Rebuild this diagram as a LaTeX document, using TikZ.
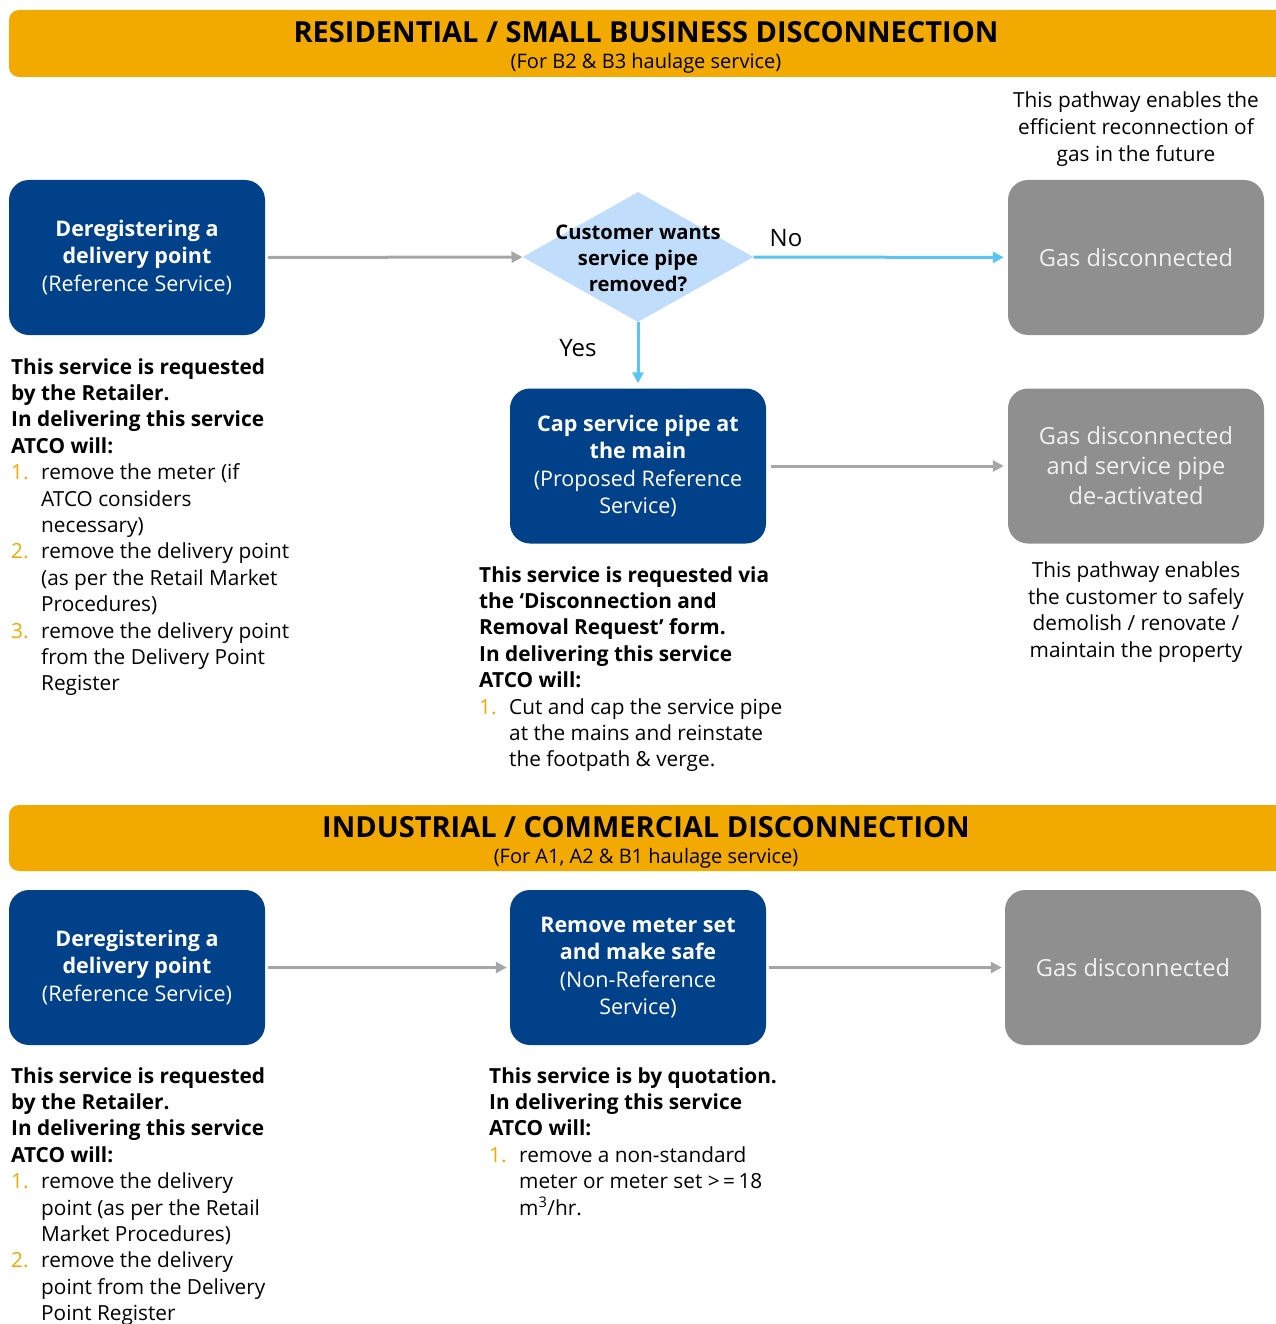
\documentclass[tikz,border=0pt]{standalone}
\usepackage{fontspec}
\setmainfont{Open Sans}
\usetikzlibrary{shapes.geometric,arrows.meta,positioning}

\definecolor{atcoorange}{HTML}{F2A900}
\definecolor{atcoblue}{HTML}{00418A}
\definecolor{boxgray}{HTML}{8F8F8F}
\definecolor{boxtext}{HTML}{F0F0F0}
\definecolor{decisionblue}{HTML}{C0DEFC}
\definecolor{flowblue}{HTML}{5BC5F2}
\definecolor{flowgray}{HTML}{A6A6A6}

\newcommand{\nitem}[1]{\makebox[30pt][l]{\color{atcoorange}#1}}
\newcommand{\ncont}{\hspace*{30pt}}

\tikzset{
  bluebox/.style={rectangle, rounded corners=20pt, fill=atcoblue, text=white,
    minimum width=256pt, minimum height=155pt, align=center, inner sep=0pt,
    font=\fontsize{21.5}{27.5}\selectfont},
  graybox/.style={rectangle, rounded corners=20pt, fill=boxgray, text=boxtext,
    minimum width=256pt, minimum height=155pt, align=center, inner sep=0pt,
    font=\fontsize{23.6}{30}\selectfont},
  decision/.style={diamond, fill=decisionblue, minimum width=231pt, minimum height=130pt,
    inner sep=0pt},
  decisiontext/.style={align=center, inner sep=0pt, font=\bfseries\fontsize{20.2}{26}\selectfont},
  bodytext/.style={anchor=north west, align=left, inner sep=0pt,
    font=\fontsize{20.8}{26.4}\selectfont},
  notetext/.style={align=center, inner sep=0pt, font=\fontsize{20.8}{26.6}\selectfont},
  bannertitle/.style={inner sep=0pt, font=\bfseries\fontsize{29}{32}\selectfont},
  bannersub/.style={inner sep=0pt, font=\fontsize{20}{22}\selectfont},
  greyflow/.style={draw=flowgray, line width=3pt, -{Triangle[length=11pt,width=11pt]}},
  blueflow/.style={draw=flowblue, line width=3pt, -{Triangle[length=11pt,width=11pt]}},
  flowlabel/.style={inner sep=0pt, font=\fontsize{24}{28}\selectfont}
}

\begin{document}
\begin{tikzpicture}[x=1pt, y=-1pt]
  \useasboundingbox (0,0) rectangle (1275,1324);

  % Residential banner
  \fill[atcoorange, rounded corners=10pt] (9,10) rectangle (1300,77);
  \node[bannertitle] (restitle) at (646,32) {RESIDENTIAL / SMALL BUSINESS DISCONNECTION};
  \node[bannersub] (ressub) at (646,63.5) {(For B2 \& B3 haulage service)};

  % Residential flow
  \node[bluebox] (dereg1) at (137,257.5) {\textbf{Deregistering a}\\\textbf{delivery point}\\(Reference Service)};
  \node[decision] (choice) at (638,257) {};
  \node[decisiontext] (choicetext) at (638,258) {Customer wants\\service pipe\\removed?};
  \node[graybox] (gasoff1) at (1136,257.5) {Gas disconnected};
  \node[bluebox] (capmain) at (638,466) {\textbf{Cap service pipe at}\\\textbf{the main}\\(Proposed Reference\\Service)};
  \node[graybox] (gasoff2) at (1136,466) {Gas disconnected\\and service pipe\\de-activated};

  \draw[greyflow, shorten <=3pt] (dereg1) -- (choice);
  \draw[blueflow, shorten >=4pt] (choice) -- (gasoff1);
  \draw[blueflow, shorten >=5pt] (choice.south) -- (capmain.north);
  \draw[greyflow, shorten <=5pt, shorten >=4pt] (capmain) -- (gasoff2);
  \node[flowlabel] (nolabel) at (786,238) {No};
  \node[flowlabel] (yeslabel) at (578,348) {Yes};

  % Residential notes
  \node[notetext] (reconnote) at (1136,129) {This pathway enables the\\efficient reconnection of\\gas in the future};
  \node[notetext] (demolnote) at (1136,612) {This pathway enables\\the customer to safely\\demolish / renovate /\\maintain the property};
  \node[bodytext] (dereg1text) at (11,358) {\textbf{This service is requested}\\\textbf{by the Retailer.}\\\textbf{In delivering this service}\\\textbf{ATCO will:}\\
    \nitem{1.}remove the meter (if\\\ncont ATCO considers\\\ncont necessary)\\
    \nitem{2.}remove the delivery point\\\ncont (as per the Retail Market\\\ncont Procedures)\\
    \nitem{3.}remove the delivery point\\\ncont from the Delivery Point\\\ncont Register};
  \node[bodytext] (captext) at (479,566) {\textbf{This service is requested via}\\\textbf{the `Disconnection and}\\\textbf{Removal Request' form.}\\\textbf{In delivering this service}\\\textbf{ATCO will:}\\
    \nitem{1.}Cut and cap the service pipe\\\ncont at the mains and reinstate\\\ncont the footpath \& verge.};

  % Industrial banner
  \fill[atcoorange, rounded corners=10pt] (9,805) rectangle (1300,871);
  \node[bannertitle] (indtitle) at (646,827) {INDUSTRIAL / COMMERCIAL DISCONNECTION};
  \node[bannersub] (indsub) at (646,858.5) {(For A1, A2 \& B1 haulage service)};

  % Industrial flow
  \node[bluebox] (dereg2) at (137,967.5) {\textbf{Deregistering a}\\\textbf{delivery point}\\(Reference Service)};
  \node[bluebox] (meterset) at (638,967.5) {\textbf{Remove meter set}\\\textbf{and make safe}\\(Non-Reference\\Service)};
  \node[graybox] (gasoff3) at (1133,967.5) {Gas disconnected};

  \draw[greyflow, shorten <=3pt, shorten >=3pt] (dereg2) -- (meterset);
  \draw[greyflow, shorten <=3pt, shorten >=3pt] (meterset) -- (gasoff3);

  % Industrial notes
  \node[bodytext] (dereg2text) at (11,1067) {\textbf{This service is requested}\\\textbf{by the Retailer.}\\\textbf{In delivering this service}\\\textbf{ATCO will:}\\
    \nitem{1.}remove the delivery\\\ncont point (as per the Retail\\\ncont Market Procedures)\\
    \nitem{2.}remove the delivery\\\ncont point from the Delivery\\\ncont Point Register};
  \node[bodytext] (metertext) at (489,1067) {\textbf{This service is by quotation.}\\\textbf{In delivering this service}\\\textbf{ATCO will:}\\
    \nitem{1.}remove a non-standard\\\ncont meter or meter set >\,=\,18\\\ncont m\textsuperscript{3}/hr.};
\end{tikzpicture}
\end{document}
